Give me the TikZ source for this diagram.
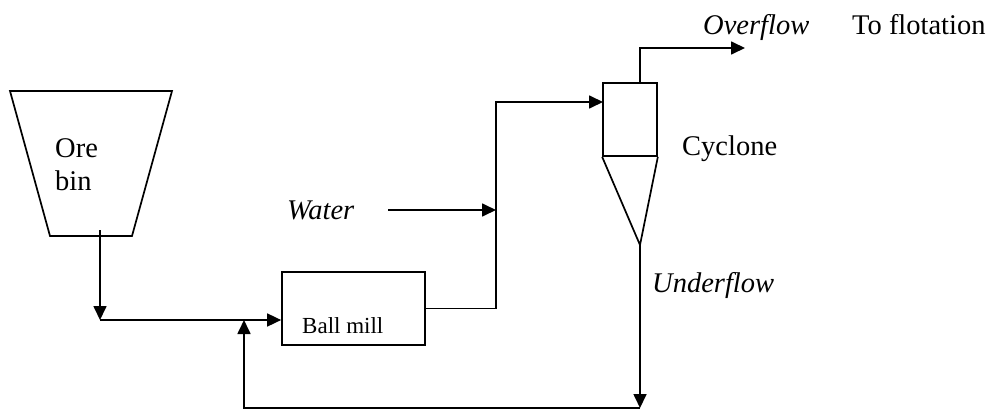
\documentclass[tikz,border=0pt]{standalone}
\usepackage{fontspec}
\setmainfont{Liberation Serif}
\usetikzlibrary{arrows.meta, positioning}

\begin{document}
\begin{tikzpicture}[x=1pt, y=-1pt,
            line/.style ={line width=1.7pt},
            arr/.style  ={line, -{Triangle[length=14pt, width=13pt]}},
            unit/.style ={rectangle, draw, line width=1.7pt, inner sep=0pt},
            lbl/.style  ={anchor=base west, inner sep=0pt, font=\fontsize{28.5}{33}\selectfont},
            flow/.style ={lbl, font=\fontsize{28.5}{33}\selectfont\itshape}
        ]
            \useasboundingbox (0,0) rectangle (1000,412);

            % ore bin
            \draw[line] (10,91) -- (172,91) -- (132,236) -- (50,236) -- cycle;
            \node[lbl] (ore) at (55,157) {Ore};
            \node[lbl] (bin) at (55,190) {bin};
            \coordinate (binout) at (100,230);
            \coordinate (feed)   at (100,320);

            % ball mill
            \node[unit, minimum width=143pt, minimum height=73pt] (mill) at (353.5,308.5) {};
            \node[lbl, font=\fontsize{23}{27}\selectfont] (milltxt) at (302,333) {Ball mill};

            % cyclone
            \node[unit, minimum width=54pt, minimum height=73pt] (cyl) at (630,119.5) {};
            \coordinate (apex)  at (640,245);
            \coordinate (inlet) at (603,102);
            \draw[line] (cyl.south west) -- (apex) -- (cyl.south east);
            \node[lbl] (cyctxt) at (682,155) {Cyclone};

            % points on the pipes
            \coordinate (junc)  at (244,320);
            \coordinate (riser) at (496,308.5);
            \coordinate (low)   at (640,408);
            \coordinate (top)   at (640,48);
            \coordinate (out)   at (745,48);
            \coordinate (wsrc)  at (388,210);

            \draw[arr] (binout) -- (feed);
            \draw[arr] (feed) -- (mill.west |- feed);
            \draw[arr] (mill.east) -- (riser) |- (inlet);
            \draw[arr] (wsrc) -- (riser |- wsrc);
            \draw[arr] (apex |- cyl.north) -- (top) -- (out);
            \draw[arr] (apex) -- (low);
            \draw[arr] (low) -| (junc);

            % stream labels
            \node[flow] (water) at (287,219) {Water};
            \node[flow] (over)  at (703,35)  {Overflow};
            \node[lbl]  (flot)  at (852,35)  {To flotation};
            \node[flow] (under) at (652,292) {Underflow};
        \end{tikzpicture}
\end{document}
